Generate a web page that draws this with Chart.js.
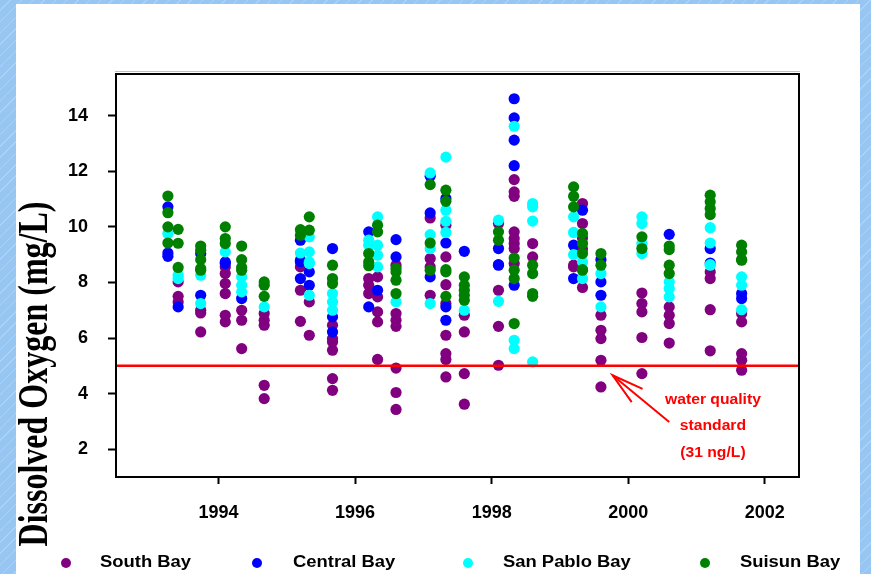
<!DOCTYPE html>
<html>
<head>
<meta charset="utf-8">
<script src="https://cdn.jsdelivr.net/npm/chart.js@4/dist/chart.umd.min.js"></script>
<style>
html,body{margin:0;padding:0;width:871px;height:574px;overflow:hidden;}
body{position:relative;background:#98C6F2 repeating-linear-gradient(135deg,#98C6F2 0px,#98C6F2 7px,#ABD2F7 7px,#ABD2F7 8px);}
#panel{position:absolute;left:16px;top:4px;width:844px;height:570px;background:#fff;}
#chart{position:absolute;left:0;top:0;}
#ytitle{position:absolute;left:32px;top:374px;white-space:nowrap;font:bold 32px "Liberation Serif","Times New Roman",serif;color:#000;
  transform:translate(-50%,-50%) rotate(-90deg) scaleY(1.35);line-height:1;}
.dot{position:absolute;width:10px;height:10px;border-radius:50%;top:558px;}
.lt{position:absolute;top:553px;font:bold 16px "Liberation Sans",Arial,sans-serif;color:#000;transform:scaleX(1.15);transform-origin:left center;white-space:nowrap;line-height:18px;}
</style>
</head>
<body>
<div id="panel"></div>
<canvas id="chart" width="871" height="574"></canvas>
<div id="ytitle">Dissolved Oxygen (mg/L)</div>
<div id="legend"></div>
<script>
// ---- data ----
const seriesNames = ['South Bay', 'Central Bay', 'San Pablo Bay', 'Suisun Bay'];
const seriesColors = ['#800080', '#0000FF', '#00FFFF', '#008000'];
const surveyDates = [1993.26, 1993.41, 1993.74, 1994.10, 1994.34, 1994.67, 1995.20, 1995.33, 1995.67,
  1996.20, 1996.33, 1996.60, 1997.10, 1997.33, 1997.60, 1998.10, 1998.33, 1998.60,
  1999.20, 1999.33, 1999.60, 2000.20, 2000.60, 2001.20, 2001.66];
const southBay = [
  [], [8.02, 7.50, 7.30], [7.0, 6.9, 6.22], [8.56, 8.32, 7.96, 7.6, 6.82, 6.58], [7.0, 6.64, 5.62],
  [6.88, 6.64, 6.46, 4.3, 3.82], [8.56, 7.72, 6.6], [7.3, 6.1], [6.46, 5.98, 5.86, 5.56, 4.54, 4.12],
  [8.14, 7.9, 7.6], [8.2, 7.48, 6.94, 6.58, 5.23], [8.62, 6.88, 6.64, 6.42, 4.92, 4.04, 3.43],
  [10.32, 8.86, 8.56, 7.54], [10.06, 8.92, 7.92, 7.24, 6.1, 5.44, 5.23, 4.6], [6.82, 6.22, 4.72, 3.62],
  [10.12, 7.72, 6.42, 5.02], [11.7, 11.26, 11.1, 9.82, 9.58, 9.4, 9.22, 8.68], [9.4, 8.92],
  [8.62, 8.56], [10.84, 10.12, 9.6, 9.2, 7.82], [6.82, 6.28, 5.98, 5.2, 4.24], [7.62, 7.24, 6.94, 6.02, 4.72],
  [7.12, 6.82, 6.52, 5.82], [8.38, 8.14, 7.02, 5.54], [6.88, 6.58, 5.44, 5.2, 4.84]
];
const centralBay = [
  [10.72, 9.06, 8.94], [7.12], [9.04, 7.54], [8.74, 8.68], [7.42], [], [9.52, 8.8, 8.74, 8.14],
  [8.38, 7.9], [9.22, 6.76, 6.22], [9.82, 7.12], [7.72], [9.54, 8.92], [11.82, 10.5, 8.2],
  [11.02, 9.42, 7.12, 6.64], [9.12], [9.22, 8.64, 8.62], [14.61, 13.92, 13.12, 12.2, 7.9], [],
  [9.34, 8.14], [10.6], [8.82, 8.02, 7.54], [], [9.73], [9.22, 8.7], [7.6, 7.42]
];
const sanPabloBay = [
  [9.76], [8.26, 8.14], [8.26, 7.24], [9.1], [8.2, 7.9, 7.66], [7.12], [9.06],
  [9.64, 9.1, 8.74, 8.68, 7.54], [7.6, 7.3, 7.0], [9.52, 9.34], [10.36, 9.34, 8.98, 8.56], [7.3],
  [11.94, 9.72, 9.22, 7.24], [12.51, 10.6, 10.2, 9.8], [7.0], [10.24, 7.32], [13.62, 5.92, 5.62],
  [10.84, 10.72, 10.21, 5.14], [10.36, 9.8, 9.0], [8.74, 8.14], [8.32, 7.12],
  [10.36, 10.12, 9.4, 9.04], [8.02, 7.78, 7.48], [9.97, 9.42, 8.64, 8.62], [8.2, 7.9, 7.02]
];
const suisunBay = [
  [11.11, 10.51, 10.0, 9.42], [9.91, 9.41, 8.54], [9.31, 9.16, 8.82, 8.5, 8.44], [10.0, 9.58, 9.4],
  [9.31, 8.82, 8.54, 8.44], [8.02, 7.9, 7.5], [9.9, 9.7], [10.36, 9.88], [8.62, 8.14, 7.96],
  [9.04, 8.74, 8.6], [10.06, 9.82], [8.5, 8.38, 8.08, 7.6], [11.52, 9.42, 8.44],
  [11.32, 10.92, 8.46, 8.38, 7.5], [8.2, 7.9, 7.72, 7.54, 7.36], [9.82, 9.52], [8.88, 8.44, 8.14, 6.52],
  [8.62, 8.32, 7.6, 7.5], [11.44, 11.1, 10.72], [9.76, 9.4, 9.04, 8.46, 8.44], [9.04, 8.62],
  [9.64, 9.22], [9.31, 9.18, 8.62, 8.32], [11.14, 10.9, 10.66, 10.44], [9.34, 9.1, 8.82, 8.8]
];
const waterQualityStandard = 5;
const standardLabel = ['water quality', 'standard', '(31 ng/L)'];
const xTickValues = [1994, 1996, 1998, 2000, 2002];
const yTickValues = [2, 4, 6, 8, 10, 12, 14];
const xRange = [1992.5, 2002.5];
const yRange = [1, 15.5];

// ---- build ----
function toPoints(groups) {
  const pts = [];
  groups.forEach((vals, i) => vals.forEach(v => pts.push({x: surveyDates[i], y: v})));
  return pts;
}
const allSeries = [southBay, centralBay, sanPabloBay, suisunBay];

const datasets = allSeries.map((s, i) => ({
  type: 'scatter',
  label: seriesNames[i],
  data: toPoints(s),
  backgroundColor: seriesColors[i],
  borderColor: seriesColors[i],
  borderWidth: 0,
  pointRadius: 5.6,
  order: 4 - i
}));
datasets.push({
  type: 'line',
  label: 'standard',
  data: [{x: xRange[0], y: waterQualityStandard}, {x: xRange[1], y: waterQualityStandard}],
  borderColor: '#FF0000',
  borderWidth: 2.5,
  pointRadius: 0,
  order: 0
});

const framePlugin = {
  id: 'frame',
  afterDraw(chart) {
    const {ctx, chartArea: a, scales} = chart;
    ctx.save();
    ctx.strokeStyle = '#000';
    ctx.lineWidth = 2;
    ctx.strokeRect(a.left, a.top, a.right - a.left, a.bottom - a.top);
    ctx.strokeStyle = 'rgba(0,0,0,0.25)';
    ctx.lineWidth = 1;
    ctx.beginPath(); ctx.moveTo(a.left - 1, a.top - 2.5); ctx.lineTo(a.right + 1, a.top - 2.5); ctx.stroke();
    // annotation arrow
    const xs = scales.x, ys = scales.y;
    const tx = xs.getPixelForValue(1999.77), ty = ys.getPixelForValue(4.66);
    const ex = xs.getPixelForValue(2000.6), ey = ys.getPixelForValue(2.98);
    ctx.strokeStyle = '#FF0000';
    ctx.lineWidth = 2;
    ctx.beginPath(); ctx.moveTo(ex, ey); ctx.lineTo(tx, ty); ctx.stroke();
    const ang = Math.atan2(ey - ty, ex - tx);
    const L = 33, da = 15 * Math.PI / 180;
    ctx.beginPath();
    ctx.moveTo(tx + L * Math.cos(ang - da), ty + L * Math.sin(ang - da));
    ctx.lineTo(tx, ty);
    ctx.lineTo(tx + L * Math.cos(ang + da), ty + L * Math.sin(ang + da));
    ctx.stroke();
    ctx.fillStyle = '#FF0000';
    ctx.font = 'bold 14px "Liberation Sans", Arial, sans-serif';
    ctx.textAlign = 'center';
    ctx.textBaseline = 'middle';
    const cx = xs.getPixelForValue(2001.24);
    const lineVals = [3.76, 2.84, 1.87];
    standardLabel.forEach((t, i) => {
      ctx.save();
      ctx.translate(cx, ys.getPixelForValue(lineVals[i]));
      ctx.scale(1.12, 1);
      ctx.fillText(t, 0, 0);
      ctx.restore();
    });
    ctx.restore();
  }
};

const tickFont = {family: '"Liberation Sans", Arial, sans-serif', weight: 'bold', size: 18};

new Chart(document.getElementById('chart'), {
  data: {datasets},
  options: {
    responsive: false,
    animation: false,
    events: [],
    layout: {padding: {left: 0, top: 74, right: 72, bottom: 0}},
    plugins: {legend: {display: false}, tooltip: {enabled: false}},
    scales: {
      x: {
        type: 'linear', min: xRange[0], max: xRange[1],
        afterBuildTicks: s => { s.ticks = xTickValues.map(v => ({value: v})); },
        afterFit: s => { s.height = 97; },
        grid: {drawOnChartArea: false, drawTicks: true, tickLength: 7, tickWidth: 2, tickColor: '#000'},
        border: {display: true, color: '#000', width: 2},
        ticks: {color: '#000', font: tickFont, padding: 18, maxRotation: 0, autoSkip: false, callback: v => String(v)}
      },
      y: {
        type: 'linear', min: yRange[0], max: yRange[1],
        afterBuildTicks: s => { s.ticks = yTickValues.map(v => ({value: v})); },
        afterFit: s => { s.width = 116; },
        grid: {drawOnChartArea: false, drawTicks: true, tickLength: 8, tickWidth: 2, tickColor: '#000'},
        border: {display: true, color: '#000', width: 2},
        ticks: {color: '#000', font: tickFont, padding: 20, autoSkip: false, callback: v => String(v)}
      }
    }
  },
  plugins: [framePlugin]
});

// legend (HTML)
const legendDotX = [61, 252, 463, 700];
const legendTextX = [100, 293, 503, 740];
const leg = document.getElementById('legend');
seriesNames.forEach((n, i) => {
  const d = document.createElement('div');
  d.className = 'dot'; d.style.left = legendDotX[i] + 'px'; d.style.background = seriesColors[i];
  leg.appendChild(d);
  const t = document.createElement('div');
  t.className = 'lt'; t.style.left = legendTextX[i] + 'px'; t.textContent = n;
  leg.appendChild(t);
});
</script>
</body>
</html>
